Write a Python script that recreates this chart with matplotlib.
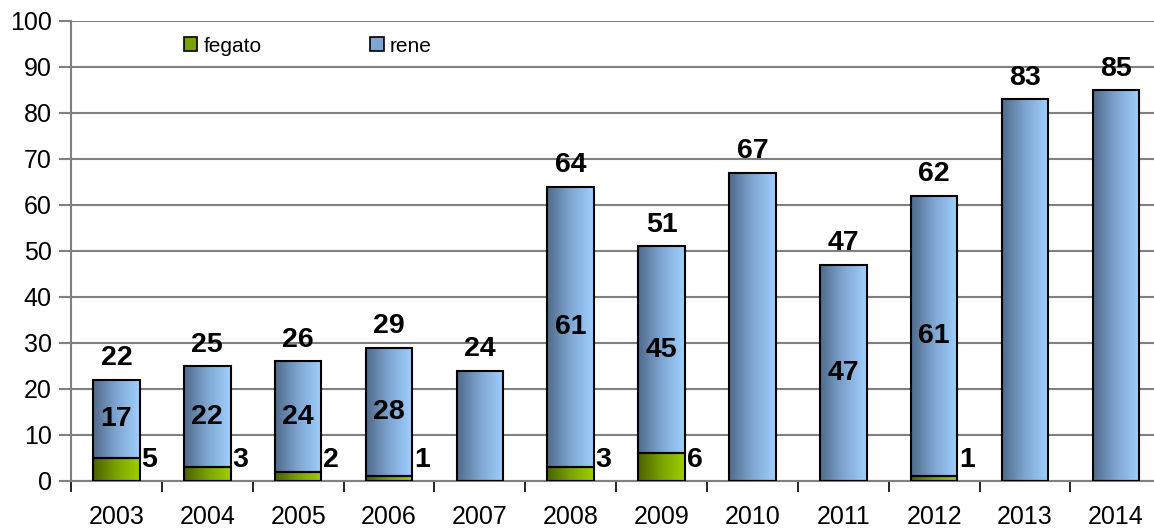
import numpy as np
import matplotlib
matplotlib.use("Agg")
import matplotlib.pyplot as plt
from matplotlib.colors import LinearSegmentedColormap
from matplotlib.patches import Rectangle

plt.rcParams["font.family"] = ["Liberation Sans", "DejaVu Sans"]

years = ["2003", "2004", "2005", "2006", "2007", "2008", "2009", "2010", "2011", "2012", "2013", "2014"]
fegato = [5, 3, 2, 1, 0, 3, 6, 0, 0, 1, 0, 0]
rene = [17, 22, 24, 28, 24, 61, 45, 67, 47, 61, 83, 85]
# labels shown inside the rene segment (None = no label)
rene_labels = ["17", "22", "24", "28", None, "61", "45", None, "47", "61", None, None]
fegato_labels = ["5", "3", "2", "1", None, "3", "6", None, None, "1", None, None]

blue_cmap = LinearSegmentedColormap.from_list("blue", ["#506a8a", "#7fa6d2", "#a0d0ff"])
green_cmap = LinearSegmentedColormap.from_list("green", ["#4a6100", "#7aa300", "#9fcf00"])
grad = np.linspace(0, 1, 256).reshape(1, -1)

fig = plt.figure(figsize=(11.54, 5.31), dpi=100)
ax = fig.add_axes([71 / 1154, 1 - 481 / 531, 1 - 71 / 1154, 460 / 531])

x = np.arange(len(years))
width = 0.513


def gradient_bars(xs, heights, bottoms, cmap):
    bars = ax.bar(xs, heights, width, bottom=bottoms, facecolor="none",
                  edgecolor="black", linewidth=1.5, zorder=3)
    for bar in bars:
        if bar.get_height() <= 0:
            continue
        x0, y0 = bar.get_x(), bar.get_y()
        im = ax.imshow(grad, cmap=cmap, aspect="auto", zorder=2,
                       extent=[x0, x0 + bar.get_width(), y0, y0 + bar.get_height()])
        im.set_clip_path(bar)
    return bars


gradient_bars(x, fegato, 0, green_cmap)
gradient_bars(x, rene, fegato, blue_cmap)

ax.set_xlim(-0.5, 11.42)
ax.set_ylim(0, 100)

# value labels
for i in range(len(years)):
    total = fegato[i] + rene[i]
    ax.annotate(str(total), (x[i], total), xytext=(0, 6), textcoords="offset points",
                ha="center", va="bottom", fontsize=20.5, fontweight="bold")
    if rene_labels[i]:
        ax.text(x[i], fegato[i] + rene[i] / 2, rene_labels[i], ha="center", va="center",
                fontsize=20.5, fontweight="bold", zorder=4)
    if fegato_labels[i]:
        ax.text(x[i] + width / 2 + 0.02, 4.6, fegato_labels[i], ha="left", va="center",
                fontsize=20.5, fontweight="bold", zorder=4)

# axes styling
ax.set_yticks(range(0, 101, 10))
ax.yaxis.grid(True, color="#808080", linewidth=1.5)
ax.set_axisbelow(True)
ax.tick_params(axis="y", length=9, width=1.5, color="#808080", labelsize=18, pad=5)
ax.set_xticks(x)
ax.set_xticklabels(years)
ax.tick_params(axis="x", length=0, labelsize=18, pad=17)
ax.set_xticks(np.arange(-0.5, 11.5, 1.0), minor=True)
ax.tick_params(axis="x", which="minor", length=8, width=1.2, color="black")
for side in ["top", "right"]:
    ax.spines[side].set_visible(False)
ax.spines["left"].set_color("#808080")
ax.spines["left"].set_linewidth(1.5)
ax.spines["bottom"].set_color("#808080")
ax.spines["bottom"].set_linewidth(1.5)

# legend
h1 = Rectangle((0, 0), 1, 1, facecolor="#7aa300", edgecolor="black", linewidth=1.2)
h2 = Rectangle((0, 0), 1, 1, facecolor="#7fa6d2", edgecolor="black", linewidth=1.2)
fig.legend([h1, h2], ["fegato", "rene"], ncol=2, frameon=False, fontsize=15,
           handlelength=0.65, handleheight=0.65, handletextpad=0.3, columnspacing=5.2,
           loc="center left", bbox_to_anchor=(165 / 1154, 1 - 46 / 531))

fig.savefig("out.png", dpi=100)
